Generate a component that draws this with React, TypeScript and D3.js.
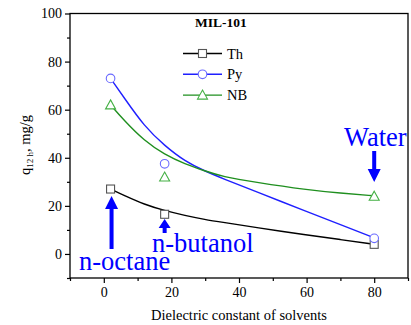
import React, { useEffect, useRef } from "react";
import * as d3 from "d3";

// measured points (dielectric constant -> uptake)
const solventX = [2, 18, 80];
const thValues = [27, 16.5, 4];
const pyValues = [73, 37.5, 6.5];
const nbValues = [62, 32, 24];

// fitted curves
const fitX = [2, 6, 12, 18, 24, 30, 35, 45, 60, 70, 80];
const thFit = [27, 24.3, 20.6, 18, 16, 14.3, 13.2, 11, 7.9, 6, 4];
const pyFit = [73, 65, 53, 45, 38.5, 34.4, 31.5, 25.9, 17.7, 12.2, 6.7];
const nbFit = [62, 55.5, 47, 41.3, 37.4, 34.5, 32.2, 29.8, 26.7, 25.3, 24.2];

const xTicks = [0, 20, 40, 60, 80];
const xMinor = [-10, 10, 30, 50, 70, 90];
const yTicks = [0, 20, 40, 60, 80, 100];
const yMinor = [-10, 10, 30, 50, 70, 90];

const series = [
  { name: "Th", values: thValues, fit: thFit, line: "#000000", mark: "#555555", shape: "square" },
  { name: "Py", values: pyValues, fit: pyFit, line: "#1f1fff", mark: "#6a6aff", shape: "circle" },
  { name: "NB", values: nbValues, fit: nbFit, line: "#1f8f1f", mark: "#44b044", shape: "triangle" },
];

const FONT = "Liberation Serif, Times New Roman, Times, serif";

function marker(g, shape, cx, cy, color) {
  if (shape === "square") {
    g.append("rect").attr("x", cx - 4).attr("y", cy - 4).attr("width", 8).attr("height", 8)
      .attr("fill", "white").attr("stroke", color).attr("stroke-width", 1.1);
  } else if (shape === "circle") {
    g.append("circle").attr("cx", cx).attr("cy", cy).attr("r", 4.3)
      .attr("fill", "white").attr("stroke", color).attr("stroke-width", 1.1);
  } else {
    g.append("path").attr("d", `M${cx},${cy - 5}L${cx + 5},${cy + 4}L${cx - 5},${cy + 4}Z`)
      .attr("fill", "white").attr("stroke", color).attr("stroke-width", 1.1);
  }
}

// vertical block arrow, dir = -1 points up, 1 points down
function arrow(g, x, tip, base, headLen, headW, shaftW, dir) {
  const hb = tip - dir * headLen;
  const s = shaftW / 2;
  g.append("path")
    .attr("d", `M${x},${tip}L${x + headW},${hb}L${x + s},${hb}L${x + s},${base}L${x - s},${base}L${x - s},${hb}L${x - headW},${hb}Z`)
    .attr("fill", "#0000ff");
}

export default function App() {
  const svgRef = useRef(null);

  useEffect(() => {
    const svg = d3.select(svgRef.current);
    svg.selectAll("*").remove();

    const width = 411;
    const height = 325;
    const left = 70, right = 408, top = 13.5, bottom = 278;

    const x = d3.scaleLinear().domain([-10, 90]).range([left, right]);
    const y = d3.scaleLinear().domain([-10, 100]).range([bottom, top]);

    svg.attr("width", width).attr("height", height);

    // axes
    const xAxis = svg.append("g").attr("transform", `translate(0,${bottom})`)
      .call(d3.axisBottom(x).tickValues(xTicks).tickSize(5).tickSizeOuter(0).tickPadding(4));
    svg.append("g").attr("transform", `translate(0,${bottom})`)
      .call(d3.axisBottom(x).tickValues(xMinor).tickSize(3).tickSizeOuter(0).tickFormat(() => ""));
    const yAxis = svg.append("g").attr("transform", `translate(${left},0)`)
      .call(d3.axisLeft(y).tickValues(yTicks).tickSize(5).tickSizeOuter(0).tickPadding(3));
    svg.append("g").attr("transform", `translate(${left},0)`)
      .call(d3.axisLeft(y).tickValues(yMinor).tickSize(3).tickSizeOuter(0).tickFormat(() => ""));

    svg.selectAll(".domain").remove();
    svg.selectAll("g").attr("font-family", null);
    svg.selectAll(".tick line").attr("stroke", "#000").attr("stroke-width", 1.2);
    xAxis.selectAll("text").attr("font-size", 14).attr("fill", "#000");
    yAxis.selectAll("text").attr("font-size", 14).attr("fill", "#000");

    // frame
    svg.append("rect").attr("x", left).attr("y", top)
      .attr("width", right - left).attr("height", bottom - top)
      .attr("fill", "none").attr("stroke", "#000").attr("stroke-width", 1.3);

    // axis titles
    svg.append("text").attr("x", (left + right) / 2).attr("y", 320)
      .attr("text-anchor", "middle").attr("font-size", 14.5)
      .text("Dielectric constant of solvents");

    const yl = svg.append("text").attr("transform", "translate(30,145) rotate(-90)")
      .attr("text-anchor", "middle").attr("font-size", 14.5);
    yl.append("tspan").text("q");
    yl.append("tspan").attr("font-size", 9).attr("dy", 3).text("12 h");
    yl.append("tspan").attr("dy", -3).text(", mg/g");

    // fitted curves and points
    const line = d3.line().x((d) => x(d[0])).y((d) => y(d[1])).curve(d3.curveBasis);
    series.forEach((s) => {
      svg.append("path").attr("d", line(fitX.map((v, i) => [v, s.fit[i]])))
        .attr("fill", "none").attr("stroke", s.line).attr("stroke-width", 1.4);
    });
    series.forEach((s) => {
      const g = svg.append("g");
      solventX.forEach((v, i) => marker(g, s.shape, x(v), y(s.values[i]), s.mark));
    });

    // legend
    svg.append("text").attr("x", 195).attr("y", 27)
      .attr("font-weight", "bold").attr("font-size", 13.5).text("MIL-101");
    series.forEach((s, i) => {
      const ly = 53.5 + i * 20.8;
      const g = svg.append("g");
      g.append("line").attr("x1", 183).attr("x2", 222).attr("y1", ly).attr("y2", ly)
        .attr("stroke", s.line).attr("stroke-width", 1.4);
      marker(g, s.shape, 202.5, ly, s.mark);
      g.append("text").attr("x", 227).attr("y", ly + 5).attr("font-size", 14.5).text(s.name);
    });

    // annotations
    const ann = svg.append("g");
    arrow(ann, x(solventX[0]) + 1, 196, 249, 13, 6.5, 4, -1);
    arrow(ann, x(solventX[1]), 219, 233, 9, 6, 4, -1);
    arrow(ann, x(solventX[2]), 182, 151, 13, 6.5, 4, 1);
    const annText = [
      { t: "n-octane", x: 79, y: 270 },
      { t: "n-butanol", x: 152, y: 252 },
      { t: "Water", x: 344, y: 146 },
    ];
    annText.forEach((a) => {
      ann.append("text").attr("x", a.x).attr("y", a.y)
        .attr("font-size", 26.5).attr("fill", "#0000ff").text(a.t);
    });
  }, []);

  return (
    <svg ref={svgRef} style={{ position: "absolute", left: 0, top: 0, fontFamily: FONT }}></svg>
  );
}
